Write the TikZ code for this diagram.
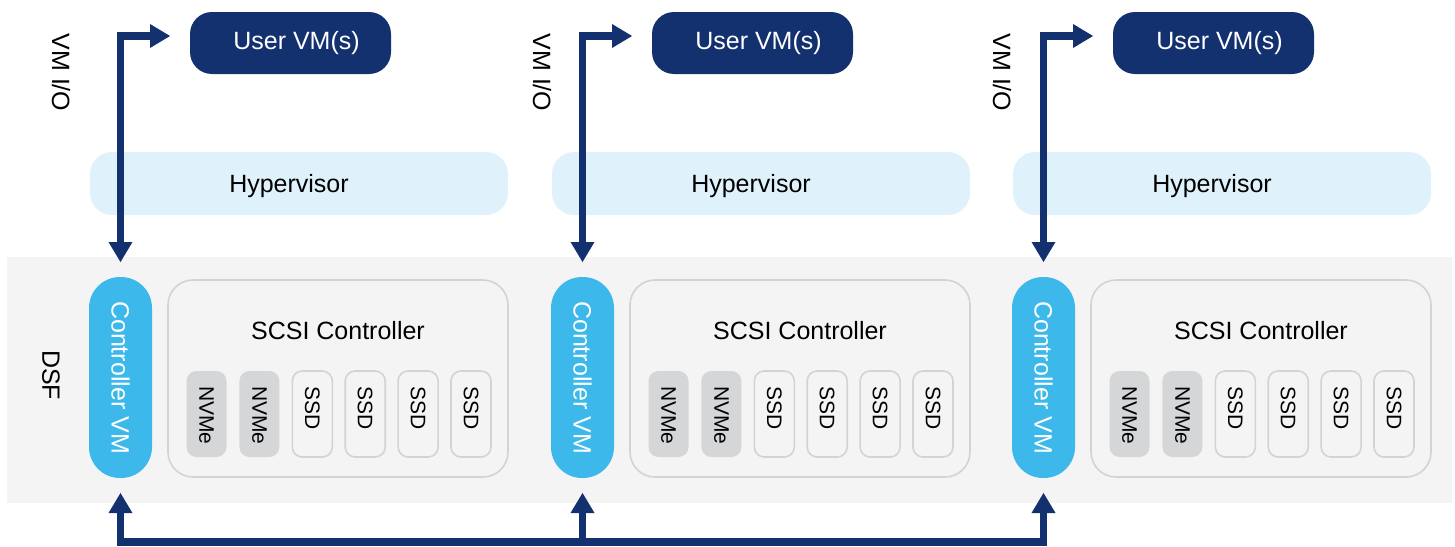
\documentclass[tikz,border=0pt]{standalone}
\usepackage{fontspec}
\setmainfont{Liberation Sans}
\usetikzlibrary{arrows.meta}
\definecolor{navy}{HTML}{13306F}
\definecolor{ctrl}{HTML}{3DB8EA}
\definecolor{hyper}{HTML}{DFF1FA}
\definecolor{dsfbg}{HTML}{F4F4F4}
\definecolor{edgegray}{HTML}{D3D3D3}
\definecolor{nvmegray}{HTML}{D5D6D8}
\tikzset{
  box/.style={rectangle, inner sep=0pt, outer sep=0pt},
  txt/.style={inner sep=0pt, font=\fontsize{25}{30}\selectfont, text=black},
  dsfarea/.style={box, fill=dsfbg, minimum width=1445pt, minimum height=246pt},
  uservm/.style={box, fill=navy, text=white, rounded corners=22pt, minimum width=201pt, minimum height=62pt, font=\fontsize{25}{30}\selectfont},
  hyperbox/.style={box, fill=hyper, rounded corners=22pt, minimum width=418pt, minimum height=63pt, text depth=0pt, font=\fontsize{25}{30}\selectfont},
  ctrlvm/.style={box, fill=ctrl, text=white, rounded corners=31pt, minimum width=63pt, minimum height=201pt, font=\fontsize{25}{30}\selectfont},
  scsi/.style={box, fill=dsfbg, draw=edgegray, line width=1.6pt, rounded corners=25pt, minimum width=340pt, minimum height=197pt},
  nvmedisk/.style={box, fill=nvmegray, rounded corners=10pt, minimum width=40pt, minimum height=86pt},
  ssddisk/.style={box, fill=dsfbg, draw=edgegray, line width=1.6pt, rounded corners=10pt, minimum width=40pt, minimum height=86pt},
  disklabel/.style={inner sep=0pt, font=\fontsize{21}{25}\selectfont, text=black},
  io/.style={draw=navy, line width=7.5pt, line join=miter},
  >={Triangle[length=20pt,width=24pt,line width=0pt]}
}
\begin{document}
\begin{tikzpicture}[x=1pt,y=-1pt]
\useasboundingbox (0,0) rectangle (1455,546);
\node[dsfarea] (dsf) at (729.5,380) {};
\node[txt] (dsflabel) at (51,375) {\rotatebox{-90}{DSF}};
\foreach \c/\dx/\iox in {1/0/61, 2/462/542, 3/923/1002} {
  \node[uservm] (uvm\c) at (290.5+\dx,43) {\hspace*{12pt}User VM(s)};
  \node[hyperbox] (hyp\c) at (299+\dx,183.5) {Hypervisor\hspace*{20pt}};
  \node[ctrlvm] (cvm\c) at (120.5+\dx,377.5) {\rotatebox{-90}{Controller VM}};
  \node[scsi, label={[txt, anchor=center, yshift=-51pt]north:SCSI Controller}] (scsi\c) at (338+\dx,378.5) {};
  \node[txt] (io\c) at (\iox,72.5) {\rotatebox{-90}{VM I/O}};
  \foreach \j in {0,1} {
    \node[nvmedisk, label={[disklabel, anchor=north, yshift=-15pt]north:\rotatebox{-90}{NVMe}}] (d\c\j) at (206.5+\dx+52.9*\j,414) {};
  }
  \foreach \j in {2,3,4,5} {
    \node[ssddisk, label={[disklabel, anchor=north, yshift=-15pt]north:\rotatebox{-90}{SSD}}] (d\c\j) at (206.5+\dx+52.9*\j,414) {};
  }
  \draw[io, <->] ([yshift=15pt]cvm\c.north) |- ([xshift=-20pt,yshift=7pt]uvm\c.west);
}
\coordinate (busy) at (0,542);
\coordinate (bus2) at (cvm2.south |- busy);
\draw[io, <->] ([yshift=-15pt]cvm1.south) |- (bus2) -| ([yshift=-15pt]cvm3.south);
\draw[io, ->] (bus2) -- ([yshift=-15pt]cvm2.south);
\end{tikzpicture}
\end{document}
